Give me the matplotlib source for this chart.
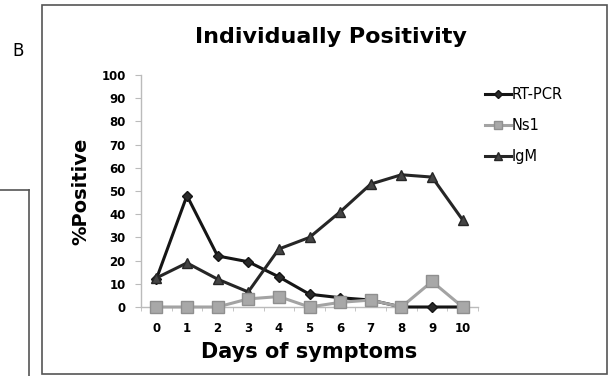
import matplotlib.pyplot as plt
from matplotlib.lines import Line2D
from matplotlib.patches import Rectangle
from matplotlib.ticker import MultipleLocator

days = [0, 1, 2, 3, 4, 5, 6, 7, 8, 9, 10]
rt_pcr = [12, 48, 22, 19.5, 13, 5.5, 4, 3, 0, 0, 0]
ns1 = [0, 0, 0, 3.5, 4.5, 0, 2, 3, 0, 11, 0]
igm = [12.5, 19, 12, 6.5, 25, 30, 41, 53, 57, 56, 37.5]

plt.rcParams['font.family'] = ['DejaVu Sans']

fig = plt.figure(figsize=(6.08, 3.76), dpi=100)
ax = fig.add_axes([141/608, 1 - 307/376, 337/608, 232/376])

# series, Ns1 drawn last so its squares sit on top
ax.plot(days, rt_pcr, color='#151515', lw=2.2, marker='D', ms=5.5,
        mfc='#2a2a2a', mec='#151515', clip_on=False, zorder=3, label='RT-PCR')
ax.plot(days, igm, color='#262626', lw=2.2, marker='^', ms=7.5,
        mfc='#444444', mec='#262626', clip_on=False, zorder=3, label='IgM')
ax.plot(days, ns1, color='#a3a3a3', lw=2.2, marker='s', ms=8,
        mfc='#a8a8a8', mec='#8f8f8f', clip_on=False, zorder=4, label='Ns1')

ax.set_xlim(-0.5, 10.5)
ax.set_ylim(0, 100)
ax.yaxis.set_major_locator(MultipleLocator(10))
ax.set_xticks(days)
ax.set_xticks([d + 0.5 for d in days[:-1]] + [-0.5, 10.5], minor=True)
ax.tick_params(axis='x', which='major', length=0, pad=11)
ax.tick_params(axis='x', which='minor', length=3, color='#bbbbbb', direction='out')
ax.tick_params(axis='y', length=4, color='#bbbbbb', pad=7)
for lab in ax.get_xticklabels() + ax.get_yticklabels():
    lab.set_fontsize(8.5)
    lab.set_fontweight('bold')
for s in ['top', 'right']:
    ax.spines[s].set_visible(False)
for s in ['left', 'bottom']:
    ax.spines[s].set_color('#bbbbbb')
    ax.spines[s].set_linewidth(1)

ax.set_ylabel('%Positive', fontsize=14, fontweight='bold', labelpad=8)
ax.set_xlabel('Days of symptoms', fontsize=15, fontweight='bold', labelpad=5)
fig.text(331/608, 1 - 37/376, 'Individually Positivity', fontsize=16,
         fontweight='bold', ha='center', va='center')

handles, labels = ax.get_legend_handles_labels()
order = [0, 2, 1]
ax.legend([handles[i] for i in order], [labels[i] for i in order],
          loc='upper left', bbox_to_anchor=(0.995, 0.985), frameon=False,
          fontsize=10.5, handlelength=1.8, handletextpad=0.05,
          labelspacing=1.1, borderaxespad=0.2, markerscale=0.75)

# panel frame and letter
fig.add_artist(Rectangle((42/608, 2/376), 565/608, 369/376, transform=fig.transFigure,
                         fill=False, ec='#555555', lw=1.2))
fig.add_artist(Line2D([29/608, 29/608], [0, 1 - 190/376], transform=fig.transFigure,
                      color='#555555', lw=1.2))
fig.add_artist(Line2D([0, 29/608], [1 - 190/376, 1 - 190/376], transform=fig.transFigure,
                      color='#555555', lw=1.2))
fig.text(18/608, 1 - 51/376, 'B', fontsize=12, ha='center', va='center')

fig.savefig('out.png', dpi=100)
